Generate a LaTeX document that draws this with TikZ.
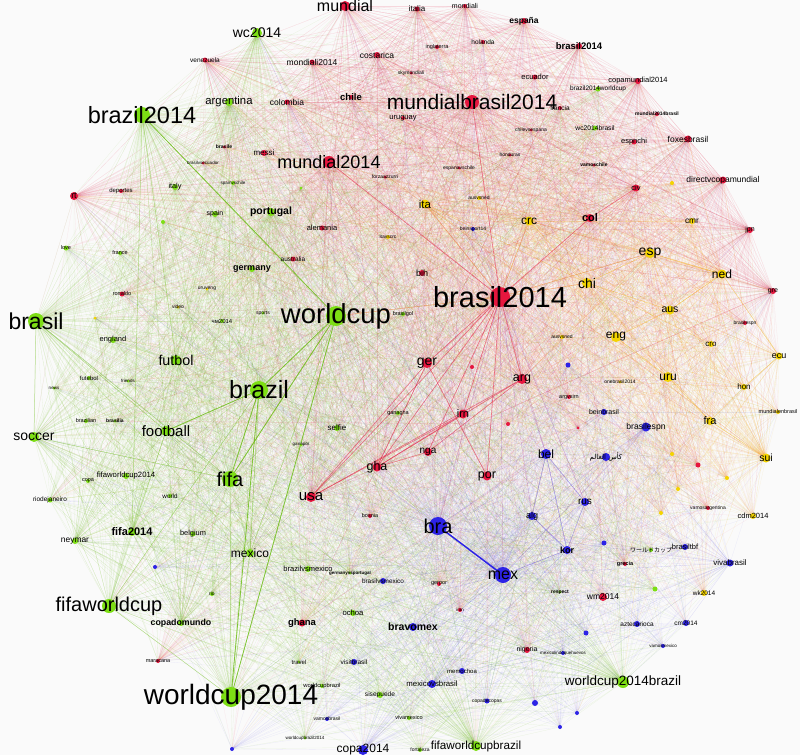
\documentclass[tikz,border=0pt]{standalone}
\usepackage{fontspec}
\setmainfont{Liberation Sans}
\newfontfamily\arabicfont[Script=Arabic]{DejaVu Sans}
\newfontfamily\jpfont{Noto Sans CJK JP}
\TeXXeTstate=1
\pgfdeclarelayer{bg}
\pgfsetlayers{bg,main}
\definecolor{cR}{RGB}{230,22,62}
\definecolor{cG}{RGB}{125,222,20}
\definecolor{cB}{RGB}{45,35,230}
\definecolor{cY}{RGB}{244,212,0}
\definecolor{cO}{RGB}{240,140,60}
\definecolor{cP}{RGB}{170,60,170}
\definecolor{bgc}{RGB}{250,250,250}
\tikzset{
  lbl/.style={inner sep=0pt, outer sep=0pt, text=black, font=\fontsize{#1}{#1}\selectfont},
  eR/.style={draw=cR, draw opacity=0.08, line width=0.3pt},
  eG/.style={draw=cG!85!black, draw opacity=0.10, line width=0.3pt},
  eB/.style={draw=cB, draw opacity=0.07, line width=0.3pt},
  eY/.style={draw=cY!80!red, draw opacity=0.10, line width=0.3pt},
  sR/.style={draw=cR, draw opacity=0.5, line width=0.6pt},
  sG/.style={draw=cG!85!black, draw opacity=0.8, line width=0.8pt},
  sGm/.style={draw=cG!85!black, draw opacity=0.4, line width=0.5pt},
  sO/.style={draw=cO, draw opacity=0.55, line width=0.6pt},
  sY/.style={draw=cY!85!red, draw opacity=0.4, line width=0.45pt},
  sB/.style={draw=cB!70!cP, draw opacity=0.35, line width=0.5pt},
  sBB/.style={draw=cB, line width=1.5pt},
  sP/.style={draw=cP, draw opacity=0.3, line width=0.5pt}
}
\newcommand\vt[7]{\fill[#4] (#2,#3) circle[radius=#5pt]; \node[lbl=#6] (#1) at (#2,#3) {#7};}
\newcommand\dt[5]{\fill[#4] (#2,#3) circle[radius=#5pt]; \coordinate (#1) at (#2,#3);}
\def\Rlist{bxiv,mbr,mun14,mun,mondiali,italia,espana,bsm,holanda,ingl,cost,mon14,venez,skym,ecuad,colom,chile,urug,franc,cvse,copam,mbra,foxes,espnchi,directv,vchile,hond,evsc,forza,messi,brasile,bvse,rt,deport,civ,col,jpn,gre,bespnr,alem,austl,bih,ger,arg,irn,nga,gha,por,usa,argvsirn,bosnia,ghana,gerpor,iran,nigeria,wmxiv,grecia,vamarg,maracana,ronaldo,ra,rb,rc,rd}
\def\Glist{wcup,brazil,bxivg,brasil,fifa,wcxiv,fwc,wcxivb,fwcb,wcii,argent,portugal,germany,italy,spain,svsc,love,france,futbol,football,soccer,england,futebol,friends,news,brazilian,brasilia,fwcxiv,copa,riodej,world,neymar,fifaxiv,belgium,mexico,bvm,gvp,selfie,ganagha,ganapor,ochoa,copadm,sisep,travel,wcbr,bwc,vivamex,fortal,wkjp,respect,rio,video,chm,uruveng,sports,wcbz,wcbzxiv,brasilgol,ga,gb,gc,gd}
\def\Blist{bra,mex,bel,rus,alg,kor,bravomex,mvb,bvmb,bespn,bein,arab,vivab,copaxiv,azt,cmxiv,memochoa,cdc,visitb,vamb,vmex,mlq,btbf,beins,ba,bb,bc,bd,be,bf,bgg,bh}
\def\Ylist{ita,crc,chi,esp,ned,aus,eng,cmr,cro,uru,ecu,hon,menb,fra,sui,cdmxiv,wkxiv,itavscrc,ausned,ausnedb,onebr,ya,yb,yc,yd,ye}
\begin{document}
\begin{tikzpicture}[x=1pt,y=-1pt]
\useasboundingbox (0,0) rectangle (800,755);
% ---------- red ----------
\vt{bxiv}{500}{297}{cR}{10}{29}{brasil2014}
\vt{mbr}{472}{102}{cR}{7}{21}{mundialbrasil2014}
\vt{mun14}{329}{162}{cR}{6}{18}{mundial2014}
\vt{mun}{345}{6}{cR}{5}{16}{mundial}
\vt{mondiali}{465}{6}{cR}{2}{7}{mondiali}
\vt{italia}{417}{9}{cR}{2.5}{8}{italia}
\vt{espana}{524}{21}{cR}{3}{8.5}{\bfseries españa}
\vt{bsm}{579}{46}{cR}{3}{9.5}{\bfseries brasil2014}
\vt{holanda}{483}{42}{cR}{2}{6.5}{holanda}
\vt{ingl}{437}{47}{cR}{2}{5.5}{inglaterra}
\vt{cost}{377}{55}{cR}{3}{8.5}{costarica}
\vt{mon14}{312}{62}{cR}{2.5}{8.5}{mondiali2014}
\vt{venez}{205}{60}{cR}{2.5}{6.5}{venezuela}
\vt{skym}{411}{73}{cR}{1.5}{5}{skymondiali}
\vt{ecuad}{535}{77}{cR}{2.5}{7.5}{ecuador}
\vt{colom}{287}{102}{cR}{2.5}{8.5}{colombia}
\vt{chile}{351}{97}{cR}{2}{9.5}{\bfseries chile}
\vt{urug}{403}{118}{cR}{2}{7.5}{uruguay}
\vt{franc}{560}{108}{cR}{2}{6.5}{francia}
\vt{cvse}{531}{130}{cR}{1.5}{5}{chilevsespana}
\vt{copam}{638}{81}{cR}{3}{7.5}{copamundial2014}
\vt{mbra}{657}{114}{cR}{2}{5}{\bfseries mundial2014brasil}
\vt{foxes}{688}{139}{cR}{3.5}{8.5}{foxesbrasil}
\vt{espnchi}{634}{142}{cR}{2.5}{7.5}{espnchi}
\vt{directv}{723}{180}{cR}{3.5}{8.5}{directvcopamundial}
\vt{vchile}{594}{165}{cR}{1.5}{5}{\bfseries vamoschile}
\vt{hond}{510}{155}{cR}{1.5}{5}{honduras}
\vt{evsc}{459}{168}{cR}{1.5}{5}{espanavschile}
\vt{forza}{385}{177}{cR}{1.5}{5}{forzaazzurri}
\vt{messi}{264}{153}{cR}{3}{8}{messi}
\vt{brasile}{224}{147}{cR}{1.5}{5}{\bfseries brasile}
\vt{bvse}{203}{163}{cR}{1.5}{4.5}{brasilvsecuador}
\vt{rt}{74}{196}{cR}{4}{9}{rt}
\vt{deport}{121}{191}{cR}{2}{6}{deportes}
\vt{civ}{636}{188}{cR}{3.5}{7.5}{civ}
\vt{col}{590}{218}{cR}{4}{11}{\bfseries col}
\vt{jpn}{750}{230}{cR}{3}{7}{jpn}
\vt{gre}{773}{291}{cR}{3}{7}{gre}
\vt{bespnr}{745}{323}{cR}{2}{5}{brasilespn}
\vt{alem}{322}{228}{cR}{2.5}{7.5}{alemania}
\vt{austl}{293}{259}{cR}{2.5}{6.5}{australia}
\vt{bih}{422}{273}{cR}{3}{9}{bih}
\vt{ger}{427}{363}{cR}{5}{14}{ger}
\vt{arg}{522}{379}{cR}{5}{12.5}{arg}
\vt{irn}{463}{414}{cR}{4.5}{11}{irn}
\vt{nga}{428}{452}{cR}{4}{10}{nga}
\vt{gha}{377}{467}{cR}{4.5}{12.5}{gha}
\vt{por}{487}{476}{cR}{4.5}{12.5}{por}
\vt{usa}{311}{497}{cR}{5}{15}{usa}
\vt{argvsirn}{569}{397}{cR}{2}{5.5}{argvsirn}
\vt{bosnia}{370}{516}{cR}{2}{5.5}{bosnia}
\vt{ghana}{302}{623}{cR}{3.5}{9.5}{\bfseries ghana}
\vt{gerpor}{439}{584}{cR}{2}{5.5}{gerpor}
\vt{iran}{460}{610}{cR}{2}{4.5}{iran}
\vt{nigeria}{527}{650}{cR}{3}{7}{nigeria}
\vt{wmxiv}{603}{597}{cR}{4}{8.5}{wm2014}
\vt{grecia}{625}{564}{cR}{2}{5.5}{\bfseries grecia}
\vt{vamarg}{708}{508}{cR}{2}{5}{vamosargentina}
\vt{maracana}{158}{661}{cR}{2}{5.5}{maracana}
\vt{ronaldo}{122}{294}{cR}{2.5}{5.5}{ronaldo}
\dt{ra}{472}{367}{cR}{2}
\dt{rb}{508}{424}{cR}{2}
\dt{rc}{578}{428}{cR}{1.5}
\dt{rd}{698}{465}{cR}{2.5}
% ---------- green ----------
\vt{wcup}{336}{316}{cG}{10}{27.5}{worldcup}
\vt{brazil}{259}{390}{cG}{9}{25}{brazil}
\vt{bxivg}{142}{115}{cG}{8}{23.5}{brazil2014}
\vt{brasil}{36}{321}{cG}{8}{23}{brasil}
\vt{fifa}{230}{479}{cG}{8}{20}{fifa}
\vt{wcxiv}{231}{697}{cG}{10}{28}{worldcup2014}
\vt{fwc}{109}{606}{cG}{7}{20}{fifaworldcup}
\vt{wcxivb}{623}{682}{cG}{6}{13.5}{worldcup2014brazil}
\vt{fwcb}{476}{746}{cG}{5}{11.7}{fifaworldcupbrazil}
\vt{wcii}{257}{33}{cG}{5}{14}{wc2014}
\vt{argent}{229}{102}{cG}{4}{11.3}{argentina}
\vt{portugal}{271}{212}{cG}{4}{10.5}{\bfseries portugal}
\vt{germany}{252}{269}{cG}{3}{9}{\bfseries germany}
\vt{italy}{175}{187}{cG}{3}{7.3}{italy}
\vt{spain}{215}{214}{cG}{3}{7}{spain}
\vt{svsc}{233}{183}{cG}{2}{4.5}{spainvschile}
\vt{love}{66}{248}{cG}{2.5}{5.5}{love}
\vt{france}{120}{253}{cG}{2}{5.5}{france}
\vt{futbol}{176}{360}{cG}{5}{14.3}{futbol}
\vt{football}{166}{431}{cG}{5}{15}{football}
\vt{soccer}{34}{437}{cG}{5}{14}{soccer}
\vt{england}{113}{340}{cG}{3}{7.5}{england}
\vt{futebol}{89}{378}{cG}{2}{6}{futebol}
\vt{friends}{128}{381}{cG}{1.5}{4.5}{friends}
\vt{news}{54}{388}{cG}{1.5}{4.5}{news}
\vt{brazilian}{86}{421}{cG}{2}{5.5}{brazilian}
\vt{brasilia}{115}{421}{cG}{1.5}{5}{\bfseries brasilia}
\vt{fwcxiv}{126}{476}{cG}{3}{7.7}{fifaworldcup2014}
\vt{copa}{88}{481}{cG}{2}{5.5}{copa}
\vt{riodej}{50}{500}{cG}{2.5}{6.5}{riodejaneiro}
\vt{world}{170}{496}{cG}{2}{6.3}{world}
\vt{neymar}{75}{541}{cG}{3}{8.4}{neymar}
\vt{fifaxiv}{132}{532}{cG}{4}{11}{\bfseries fifa2014}
\vt{belgium}{193}{534}{cG}{2.5}{7.4}{belgium}
\vt{mexico}{250}{553}{cG}{4}{12}{mexico}
\vt{bvm}{308}{569}{cG}{3}{7.5}{brazilvsmexico}
\vt{gvp}{350}{573}{cG}{1.5}{4.5}{\bfseries germanyvsportugal}
\vt{selfie}{337}{428}{cG}{3}{8}{selfie}
\vt{ganagha}{398}{413}{cG}{2}{5.5}{ganagha}
\vt{ganapor}{301}{445}{cG}{1.5}{4.5}{ganapor}
\vt{ochoa}{353}{613}{cG}{3}{7.7}{ochoa}
\vt{copadm}{181}{623}{cG}{3}{8.8}{\bfseries copadomundo}
\vt{sisep}{380}{695}{cG}{3}{6.6}{sisepuede}
\vt{travel}{299}{662}{cG}{1.5}{6}{travel}
\vt{wcbr}{595}{128}{cG}{2.5}{6.7}{wc2014brasil}
\vt{bwc}{598}{89}{cG}{2.5}{6.5}{brazil2014worldcup}
\vt{vivamex}{409}{718}{cG}{2}{5.5}{vivamexico}
\vt{fortal}{420}{750}{cG}{2}{5}{fortaleza}
\vt{wkjp}{651}{550}{cG}{2}{6}{\jpfont ワールドカップ}
\vt{respect}{560}{592}{cG}{1.5}{5}{\bfseries respect}
\vt{rio}{212}{594}{cG}{2}{5}{rio}
\vt{video}{178}{307}{cY}{1.5}{5}{video}
\vt{chm}{222}{321}{cG}{2}{6}{чм2014}
\vt{uruveng}{207}{289}{cY}{1.5}{5}{uruveng}
\vt{sports}{263}{313}{cG}{1.5}{5}{sports}
\vt{wcbz}{322}{686}{cG}{2}{5.8}{worldcupbrazil}
\vt{wcbzxiv}{305}{738}{cG}{1.5}{4.5}{worldcupbrazil2014}
\vt{brasilgol}{403}{314}{cG}{2}{5.5}{brasilgol}
\dt{ga}{655}{589}{cG}{2.5}
\dt{gb}{301}{188}{cG}{1.5}
\dt{gc}{163}{222}{cG}{2}
\dt{gd}{95}{318}{cY}{1.5}
% ---------- blue ----------
\vt{bra}{438}{526}{cB}{9}{20}{bra}
\vt{mex}{503}{575}{cB}{8}{16}{mex}
\vt{bel}{546}{454}{cB}{5}{12}{bel}
\vt{rus}{585}{502}{cB}{4}{10}{rus}
\vt{alg}{532}{516}{cB}{4}{9}{alg}
\vt{kor}{567}{550}{cB}{4}{9}{\bfseries kor}
\vt{bravomex}{413}{627}{cB}{4}{10.5}{\bfseries bravomex}
\vt{mvb}{432}{684}{cB}{4}{7.8}{mexicovsbrasil}
\vt{bvmb}{383}{581}{cB}{3}{6.4}{brasilvsmexico}
\vt{bespn}{646}{427}{cB}{4.5}{8.6}{brasilespn}
\vt{bein}{604}{412}{cB}{3}{7}{beinbrasil}
\vt{arab}{606}{457}{cB}{4}{7}{\arabicfont\beginR كأس العالم\endR}
\vt{vivab}{730}{563}{cB}{3.5}{8}{vivabrasil}
\vt{copaxiv}{363}{750}{cB}{5}{12}{copa2014}
\vt{azt}{637}{624}{cB}{3}{6.5}{aztecarioca}
\vt{cmxiv}{686}{623}{cB}{3}{6.5}{cm2014}
\vt{memochoa}{462}{671}{cB}{3}{6}{memochoa}
\vt{cdc}{487}{701}{cB}{2.5}{5}{copadecopas}
\vt{visitb}{354}{662}{cB}{3}{6.5}{visitbrasil}
\vt{vamb}{327}{719}{cB}{2}{5}{vamosbrasil}
\vt{vmex}{663}{646}{cB}{2}{4.5}{vamosmexico}
\vt{mlq}{563}{653}{cB}{2}{4.5}{mexicolindoquehuevos}
\vt{btbf}{685}{547}{cB}{3}{7.5}{brasiltbf}
\vt{beins}{473}{229}{cB}{2}{5}{beinsport14}
\dt{ba}{155}{567}{cB}{2}
\dt{bb}{586}{633}{cB}{2.5}
\dt{bc}{577}{713}{cB}{2}
\dt{bd}{560}{727}{cB}{2}
\dt{be}{232}{749}{cB}{2}
\dt{bf}{604}{543}{cB}{2.5}
\dt{bgg}{568}{365}{cB}{2.5}
\dt{bh}{535}{703}{cB}{3}
% ---------- yellow ----------
\vt{ita}{425}{204}{cY}{4.5}{11.5}{ita}
\vt{crc}{529}{221}{cY}{4.5}{12}{crc}
\vt{chi}{587}{283}{cY}{5}{14}{chi}
\vt{esp}{650}{253}{cY}{5}{14}{esp}
\vt{ned}{722}{274}{cY}{4.5}{12}{ned}
\vt{aus}{670}{310}{cY}{4.5}{10.5}{aus}
\vt{eng}{616}{337}{cY}{5}{12}{eng}
\vt{cmr}{692}{221}{cY}{3}{8.4}{cmr}
\vt{cro}{711}{344}{cY}{3}{8}{cro}
\vt{uru}{668}{377}{cY}{5}{12}{uru}
\vt{ecu}{779}{356}{cY}{3.5}{9}{ecu}
\vt{hon}{744}{387}{cY}{3}{8}{hon}
\vt{menb}{778}{412}{cY}{2}{5.5}{mundialenbrasil}
\vt{fra}{710}{421}{cY}{4}{11}{fra}
\vt{sui}{766}{458}{cY}{4.5}{10.5}{sui}
\vt{cdmxiv}{753}{516}{cY}{3}{7.5}{cdm2014}
\vt{wkxiv}{704}{593}{cY}{3}{6.5}{wk2014}
\vt{itavscrc}{388}{237}{cY}{2}{5}{itavscrc}
\vt{ausned}{479}{198}{cY}{2}{5}{ausvsned}
\vt{ausnedb}{562}{337}{cY}{2}{5}{ausvsned}
\vt{onebr}{620}{382}{cY}{1.5}{5}{onebrasil2014}
\dt{ya}{672}{454}{cY}{2}
\dt{yb}{678}{489}{cY}{2}
\dt{yc}{727}{478}{cY}{2}
\dt{yd}{661}{513}{cY}{2}
\dt{ye}{672}{183}{cY}{2}
% ---------- edges ----------
\edef\Alist{\Rlist,\Glist,\Blist,\Ylist}
\foreach \nm [count=\i] in \Alist {\coordinate (p\i) at (\nm.center); \xdef\Nall{\i}}
\begin{pgfonlayer}{bg}
\fill[bgc] (0,0) rectangle (800,755);
% red hubs
\foreach \hh in {bxiv,mbr,mun14,mun,cost,copam,foxes,directv,bsm,espana,italia,mondiali,venez,rt,colom,col,civ,ger,arg,usa,gha,mon14,chile,jpn,gre}
  \foreach \tg in \Rlist {\draw[eR] (\hh.center) -- (\tg.center);}
\foreach \hh in {bxiv,mbr,col,civ,directv,foxes,jpn,gre,arg,copam}
  \foreach \tg in \Ylist {\draw[eR] (\hh.center) -- (\tg.center);}
\foreach \hh in {bxiv,mbr,mun14}
  \foreach \tg in \Glist {\draw[eR] (\hh.center) -- (\tg.center);}
% yellow hubs
\foreach \hh in {esp,ned,chi,aus,eng,uru,fra,sui,crc,ita,ecu,cro,hon,cmr}
  \foreach \tg in \Ylist {\draw[eY] (\hh.center) -- (\tg.center);}
\foreach \hh in {esp,ned,chi,crc,ita,sui}
  \foreach \tg in \Rlist {\draw[eY] (\hh.center) -- (\tg.center);}
% green hubs
\foreach \hh in {wcup,brazil,bxivg,brasil,fifa,wcxiv,fwc,wcxivb,fwcb,wcii,argent,futbol,football,soccer,mexico,fifaxiv,portugal,copadm,neymar}
  \foreach \tg in \Glist {\draw[eG] (\hh.center) -- (\tg.center);}
\foreach \hh in {wcup,brazil,bxivg,brasil}
  \foreach \tg in \Rlist {\draw[eG] (\hh.center) -- (\tg.center);}
\foreach \hh in {fwcb,wcxivb,wcxiv}
  \foreach \tg in \Blist {\draw[eG] (\hh.center) -- (\tg.center);}
% blue hubs
\foreach \hh in {bra,mex,bravomex,copaxiv,bel,vivab,mvb,bespn,rus,kor,alg}
  \foreach \tg in \Blist {\draw[eB] (\hh.center) -- (\tg.center);}
\foreach \hh in {bra,mex}
  \foreach \tg in \Rlist {\draw[eB] (\hh.center) -- (\tg.center);}
\foreach \hh in {bra,mex}
  \foreach \tg in \Glist {\draw[eB] (\hh.center) -- (\tg.center);}
% random links
\pgfmathsetseed{7}
\foreach \nm in \Rlist {\foreach \k in {1,...,11}{\pgfmathrandominteger{\ra}{1}{\Nall}\draw[eR] (\nm.center) -- (p\ra);}}
\foreach \nm in \Glist {\foreach \k in {1,...,11}{\pgfmathrandominteger{\ra}{1}{\Nall}\draw[eG] (\nm.center) -- (p\ra);}}
\foreach \nm in \Blist {\foreach \k in {1,...,11}{\pgfmathrandominteger{\ra}{1}{\Nall}\draw[eB] (\nm.center) -- (p\ra);}}
\foreach \nm in \Ylist {\foreach \k in {1,...,11}{\pgfmathrandominteger{\ra}{1}{\Nall}\draw[eY] (\nm.center) -- (p\ra);}}
% strong links
\foreach \a/\b in {bxivg/wcup,wcup/brazil,wcup/fifa,wcup/wcxiv,brazil/fifa,brazil/wcxiv,brazil/football}
  {\draw[sG] (\a.center) -- (\b.center);}
\foreach \a/\b in {brazil/fwc,wcup/mexico,bxivg/futbol,bxivg/fifaxiv,brasil/soccer,brasil/football,soccer/fifa,fifa/wcxiv,mexico/wcxiv,fwc/wcxiv,brasil/fifa,football/fifaxiv,brazil/mexico}
  {\draw[sGm] (\a.center) -- (\b.center);}
\foreach \a/\b in {bxiv/ger,bxiv/arg,bxiv/irn,bxiv/por,bxiv/gha,bxiv/usa,bxiv/nga,bxiv/col,bxiv/mbr,bxiv/mun14,ger/gha,ger/por,ger/usa,gha/arg,usa/arg,gha/nga,nga/arg,col/civ,gha/irn,usa/irn}
  {\draw[sR] (\a.center) -- (\b.center);}
\foreach \a/\b in {bxiv/wcup,bxiv/esp,bxiv/chi,bxiv/crc,bxiv/ita}
  {\draw[sO] (\a.center) -- (\b.center);}
\foreach \a/\b in {esp/ned,esp/chi,ned/aus,ned/ecu,eng/uru,fra/sui,hon/ecu,chi/aus,uru/fra,aus/eng}
  {\draw[sY] (\a.center) -- (\b.center);}
\foreach \a/\b in {bxiv/bra,bxiv/mex,bxiv/alg,bxiv/rus,bxiv/bel,arg/bel}
  {\draw[sP] (\a.center) -- (\b.center);}
\foreach \a/\b in {bel/alg,bel/rus,bel/kor,alg/kor,rus/kor,mex/kor}
  {\draw[sB] (\a.center) -- (\b.center);}
\draw[sBB] (bra.center) -- (mex.center);
\end{pgfonlayer}
\end{tikzpicture}
\end{document}
